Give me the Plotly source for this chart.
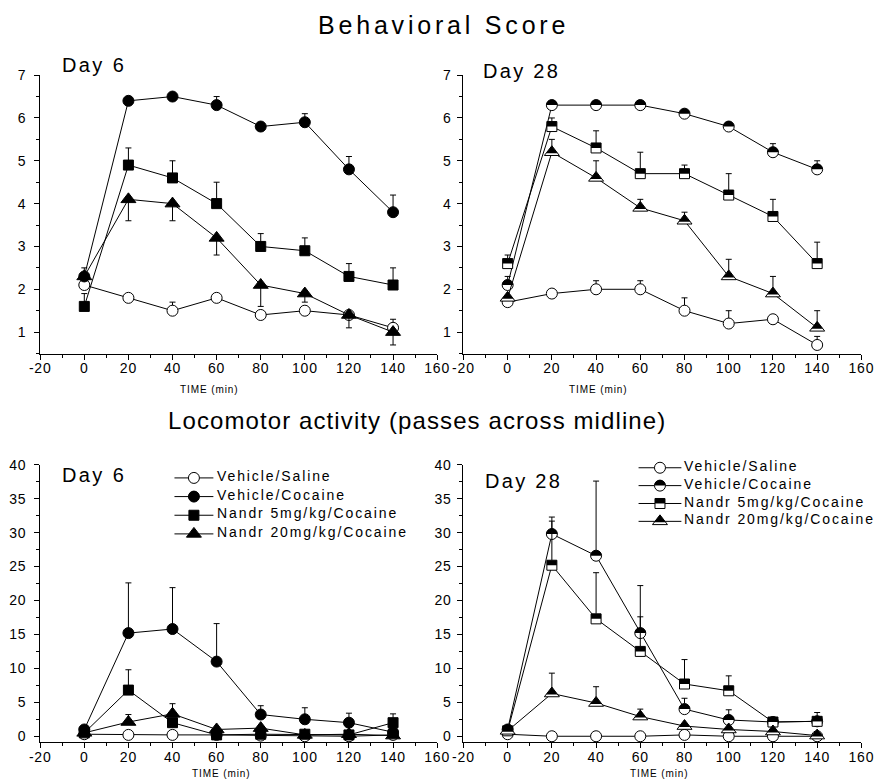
import plotly.graph_objects as go

W, H = 888, 783
FONT = "Liberation Sans"

# ---------------- data ----------------
time = [0, 20, 40, 60, 80, 100, 120, 140]
series_names = ["Vehicle/Saline", "Vehicle/Cocaine", "Nandr 5mg/kg/Cocaine", "Nandr 20mg/kg/Cocaine"]
x_ticks = [-20, 0, 20, 40, 60, 80, 100, 120, 140, 160]
beh_ticks = [1, 2, 3, 4, 5, 6, 7]
loc_ticks = [0, 5, 10, 15, 20, 25, 30, 35, 40]

# Behavioral score, Day 6
beh6_sal = [2.1, 1.8, 1.5, 1.8, 1.4, 1.5, 1.4, 1.1]
beh6_sal_up = [0, 0, 0.2, 0, 0, 0, 0, 0.2]
beh6_coc = [2.3, 6.4, 6.5, 6.3, 5.8, 5.9, 4.8, 3.8]
beh6_coc_up = [0.2, 0, 0, 0.2, 0, 0.2, 0.3, 0.4]
beh6_n5 = [1.6, 4.9, 4.6, 4.0, 3.0, 2.9, 2.3, 2.1]
beh6_n5_up = [0.3, 0.4, 0.4, 0.5, 0.3, 0.3, 0.3, 0.4]
beh6_n20 = [2.3, 4.1, 4.0, 3.2, 2.1, 1.9, 1.4, 1.0]
beh6_n20_down = [0, 0.5, 0.4, 0.4, 0.5, 0.2, 0.3, 0.3]

# Behavioral score, Day 28
beh28_sal = [1.7, 1.9, 2.0, 2.0, 1.5, 1.2, 1.3, 0.7]
beh28_sal_up = [0, 0, 0.2, 0.2, 0.3, 0.3, 0, 0.2]
beh28_coc = [2.1, 6.3, 6.3, 6.3, 6.1, 5.8, 5.2, 4.8]
beh28_coc_up = [0.2, 0, 0, 0, 0, 0, 0.2, 0.2]
beh28_n5 = [2.6, 5.8, 5.3, 4.7, 4.7, 4.2, 3.7, 2.6]
beh28_n5_up = [0.2, 0.2, 0.4, 0.5, 0.2, 0.5, 0.4, 0.5]
beh28_n20 = [1.8, 5.2, 4.6, 3.9, 3.6, 2.3, 1.9, 1.1]
beh28_n20_up = [0, 0.3, 0.4, 0.2, 0.2, 0.4, 0.4, 0.4]

# Locomotor activity, Day 6
loc6_sal = [0.3, 0.2, 0.2, 0.2, 0.1, 0.0, 0.0, 0.2]
loc6_sal_up = [0, 0.5, 0.6, 0, 0, 0, 0, 0]
loc6_coc = [1.0, 15.2, 15.8, 11.0, 3.2, 2.5, 2.0, 0.6]
loc6_coc_up = [0, 7.4, 6.1, 5.6, 1.3, 1.7, 1.4, 0]
loc6_n5 = [0.5, 6.8, 2.0, 0.2, 0.3, 0.3, 0.2, 2.0]
loc6_n5_up = [0, 3.0, 0, 0, 0, 0, 0, 1.3]
loc6_n20 = [0.5, 2.1, 3.3, 1.0, 1.2, 0.2, 0.3, 0.1]
loc6_n20_up = [0, 1.1, 1.5, 0, 0, 0, 0, 0]

# Locomotor activity, Day 28
loc28_sal = [0.3, 0.0, 0.0, 0.0, 0.2, 0.0, 0.0, 0.0]
loc28_sal_up = [0, 0, 0, 0, 0.5, 0, 0, 0]
loc28_coc = [1.0, 29.8, 26.6, 15.2, 4.0, 2.4, 2.1, 2.2]
loc28_coc_up = [0, 2.5, 11.0, 7.0, 1.6, 1.5, 0, 0]
loc28_n5 = [0.8, 25.2, 17.3, 12.5, 7.7, 6.7, 2.1, 2.2]
loc28_n5_up = [0, 6.5, 6.8, 5.1, 3.6, 2.2, 0.4, 1.3]
loc28_n20 = [0.8, 6.3, 4.9, 2.9, 1.5, 1.0, 0.7, 0.1]
loc28_n20_up = [0, 3.0, 2.4, 1.1, 0, 0, 0, 0]

# ---------------- styling helpers ----------------
def sp(t, ls=1.0, size=None):
    st = f"letter-spacing:{ls}px"
    if size:
        st += f";font-size:{size}px"
    return f'<span style="{st}">{t}</span>'

MARK = {
    "circle": dict(symbol="circle", size=11),
    "square": dict(symbol="square", size=10),
    "tri": dict(symbol="triangle-up", size=13),
}
kinds = ["circle", "circle", "square", "tri"]

def marker(kind, filled):
    m = dict(MARK[kind])
    m["color"] = "black" if filled else "white"
    m["line"] = dict(color="black", width=1)
    return m

def errbar(up=None, down=None):
    zeros = [0] * len(time)
    return dict(type="data", symmetric=False,
                array=up if up is not None else zeros,
                arrayminus=down if down is not None else zeros,
                color="black", thickness=1, width=3)

# glyph paths in pixels (y up), matching the plotly marker geometry
def full_path(kind):
    if kind == "circle":
        r = 5.5
        k = 0.5523 * r
        return (f"M {-r},0 C {-r},{k} {-k},{r} 0,{r} C {k},{r} {r},{k} {r},0 "
                f"C {r},{-k} {k},{-r} 0,{-r} C {-k},{-r} {-r},{-k} {-r},0 Z")
    if kind == "square":
        return "M -5,-5 L 5,-5 L 5,5 L -5,5 Z"
    r = 6.5
    rt = r * 2 / 3 ** 0.5
    return f"M {-rt:.2f},{-r / 2} L {rt:.2f},{-r / 2} L 0,{r} Z"

def half_path(kind):
    if kind == "circle":
        r = 5.5
        k = 0.5523 * r
        return (f"M {-r},0 C {-r},{k} {-k},{r} 0,{r} "
                f"C {k},{r} {r},{k} {r},0 Z")
    if kind == "square":
        return "M -5,0 L 5,0 L 5,5 L -5,5 Z"
    r = 6.5
    rt = r * 2 / 3 ** 0.5
    yb = -1.0
    hw = rt * (r - yb) / (r + r / 2)
    return f"M {-hw:.2f},{yb} L {hw:.2f},{yb} L 0,{r} Z"

def glyph(xref, yref, xv, yv, path, fill, outline):
    return dict(type="path", xref=xref, yref=yref,
                xsizemode="pixel", ysizemode="pixel",
                xanchor=xv, yanchor=yv, path=path, fillcolor=fill,
                line=dict(color="black", width=1 if outline else 0), layer="above")

fig = go.Figure()
shapes = []

panels = [
    ("x", "y", [beh6_sal, beh6_coc, beh6_n5, beh6_n20],
     [beh6_sal_up, beh6_coc_up, beh6_n5_up, None],
     [None, None, None, beh6_n20_down], False),
    ("x2", "y2", [beh28_sal, beh28_coc, beh28_n5, beh28_n20],
     [beh28_sal_up, beh28_coc_up, beh28_n5_up, beh28_n20_up],
     [None, None, None, None], True),
    ("x3", "y3", [loc6_sal, loc6_coc, loc6_n5, loc6_n20],
     [loc6_sal_up, loc6_coc_up, loc6_n5_up, loc6_n20_up],
     [None, None, None, None], False),
    ("x4", "y4", [loc28_sal, loc28_coc, loc28_n5, loc28_n20],
     [loc28_sal_up, loc28_coc_up, loc28_n5_up, loc28_n20_up],
     [None, None, None, None], True),
]

for xa, ya, vals, ups, downs, day28 in panels:
    for i in range(4):
        filled = (i > 0) and not day28
        fig.add_trace(go.Scatter(
            x=time, y=vals[i], xaxis=xa, yaxis=ya, mode="lines+markers",
            line=dict(color="black", width=1),
            marker=marker(kinds[i], filled),
            error_y=errbar(ups[i], downs[i]),
            name=series_names[i], showlegend=False))
        if day28 and i > 0:
            for xv, yv in zip(time, vals[i]):
                shapes.append(glyph(xa, ya, xv, yv, half_path(kinds[i]), "black", False))

# ---------------- axes ----------------
TF = dict(family=FONT, size=14, color="black")

def xaxis(domain, anchor):
    return dict(domain=domain, anchor=anchor, range=[-20, 160],
                tickmode="array", tickvals=x_ticks, ticktext=[sp(v, 0.8) for v in x_ticks],
                showline=True, linecolor="black", linewidth=1,
                ticks="outside", ticklen=5, tickwidth=1, tickcolor="black",
                minor=dict(tickvals=[v + 10 for v in x_ticks[:-1]], ticks="outside",
                           ticklen=3, tickwidth=1, tickcolor="black"),
                showgrid=False, zeroline=False, tickfont=TF, ticklabelstandoff=-3)

def yaxis(domain, anchor, rng, tv, minor_step, standoff):
    return dict(domain=domain, anchor=anchor, range=rng,
                tickmode="array", tickvals=tv, ticktext=[sp(v, 0.8) for v in tv],
                showline=True, linecolor="black", linewidth=1,
                ticks="outside", ticklen=5, tickwidth=1, tickcolor="black",
                minor=dict(tickvals=[v + minor_step for v in [tv[0] - 2 * minor_step] + tv],
                           ticks="outside", ticklen=3, tickwidth=1, tickcolor="black"),
                showgrid=False, zeroline=False, tickfont=TF, ticklabelstandoff=standoff)

XL = [30 / W, 438 / W]
XR = [465 / W, 874 / W]
YT = [(H - 350) / H, (H - 68) / H]
YB = [(H - 744) / H, (H - 462.7) / H]

fig.update_layout(
    xaxis=xaxis(XL, "y"), yaxis=yaxis(YT, "x", [0.5, 7], beh_ticks, 0.5, 5),
    xaxis2=xaxis(XR, "y2"), yaxis2=yaxis(YT, "x2", [0.5, 7], beh_ticks, 0.5, 3),
    xaxis3=xaxis(XL, "y3"), yaxis3=yaxis(YB, "x3", [-0.92, 40], loc_ticks, 2.5, 5),
    xaxis4=xaxis(XR, "y4"), yaxis4=yaxis(YB, "x4", [-0.92, 40], loc_ticks, 2.5, 3),
)

# ---------------- annotations ----------------
def ann(text, x, y, size, xanchor="center"):
    return dict(text=text, x=x / W, y=1 - y / H, xref="paper", yref="paper",
                xanchor=xanchor, yanchor="middle", showarrow=False,
                font=dict(family=FONT, size=size, color="black"))

annotations = [
    ann(sp("Behavioral Score", 3.8), 445, 17, 25),
    ann(sp("Locomotor activity (passes across midline)", 1.1), 417, 418, 24),
    ann(sp("Day 6", 2.4), 50, 58, 20, "left"),
    ann(sp("Day 28", 2.3), 483, 64, 20, "left"),
    ann(sp("Day 6", 2.4), 50, 473, 20, "left"),
    ann(sp("Day 28", 2.3), 485, 479, 20, "left"),
    ann(sp("TIME (min)", 0.9), 203, 386, 10),
    ann(sp("TIME (min)", 0.9), 603, 386, 10),
    ann(sp("TIME (min)", 0.9), 216, 775, 10),
    ann(sp("TIME (min)", 0.9), 666, 775, 10),
]

# ---------------- legends (one per locomotor panel) ----------------
# (line start px, line end px, text start px, first row px, row step px, half-filled?, spacing)
legend_boxes = [
    (168, 208, 210, 476.0, 18.9, False, 1.9),
    (645, 689, 690, 465.7, 18.1, True, 1.9),
]
for x0, x1, xt, y0, dy, half, ls in legend_boxes:
    xm = (x0 + x1) / 2
    for i, name in enumerate(series_names):
        yr = y0 + dy * i
        shapes.append(dict(type="line", xref="paper", yref="paper",
                           x0=x0 / W, x1=x1 / W, y0=1 - yr / H, y1=1 - yr / H,
                           line=dict(color="black", width=1), layer="above"))
        filled = (i > 0) and not half
        shapes.append(glyph("paper", "paper", xm / W, 1 - yr / H, full_path(kinds[i]),
                            "black" if filled else "white", True))
        if half and i > 0:
            shapes.append(glyph("paper", "paper", xm / W, 1 - yr / H, half_path(kinds[i]),
                                "black", False))
        annotations.append(ann(sp(name, ls), xt, yr - 2, 14, "left"))

fig.update_layout(
    width=W, height=H, margin=dict(l=0, r=0, t=0, b=0),
    paper_bgcolor="white", plot_bgcolor="white",
    font=dict(family=FONT, color="black"),
    annotations=annotations, shapes=shapes, showlegend=False,
)

fig.write_html("out.html")
